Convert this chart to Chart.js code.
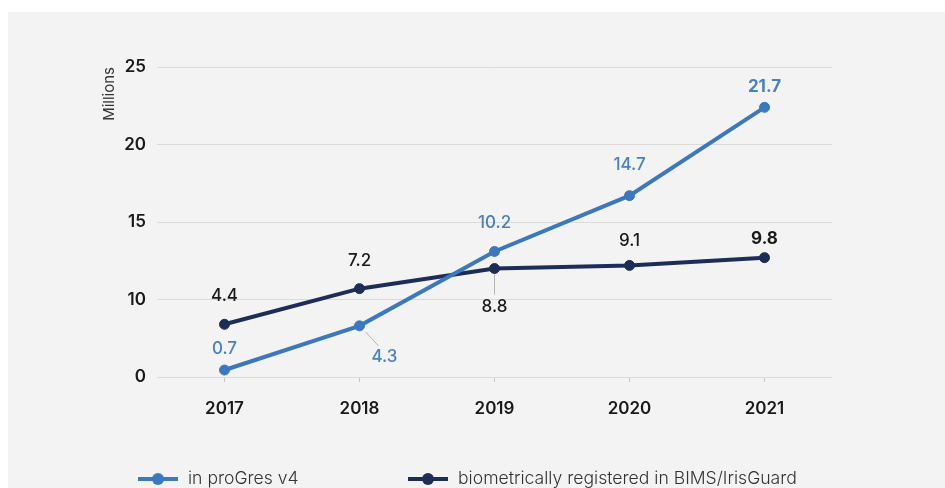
<!DOCTYPE html>
<html>
<head>
<meta charset="utf-8">
<script src="https://cdn.jsdelivr.net/npm/chart.js@4/dist/chart.umd.min.js"></script>
<style>
  html, body { margin: 0; padding: 0; background: #fff; }
  #panel { position: absolute; left: 8px; top: 12px; width: 937px; height: 476px; background: #f3f3f3; }
</style>
</head>
<body>
<div id="panel"><canvas id="chart" width="937" height="476"></canvas></div>
<script>
const years = ['2017', '2018', '2019', '2020', '2021'];
// y axis ticks as printed (the 0–10 step is drawn the same size as the others)
const yTicks = [0, 10, 15, 20, 25];
// plotted positions
const progresValues = [0.9, 6.6, 13.1, 16.7, 22.4];
const bimsValues = [6.8, 10.7, 12.0, 12.2, 12.7];
// printed labels next to the points
const progresLabels = ['0.7', '4.3', '10.2', '14.7', '21.7'];
const bimsLabels = ['4.4', '7.2', '8.8', '9.1', '9.8'];

const lightBlue = '#3b78bf';
const darkBlue = '#1e2d58';
const font = 'Inter, "Open Sans", sans-serif';

// map a value onto the stepped axis
function toAxis(v) {
  for (let i = 0; i < yTicks.length - 1; i++) {
    if (v <= yTicks[i + 1]) return i + (v - yTicks[i]) / (yTicks[i + 1] - yTicks[i]);
  }
  return yTicks.length - 1;
}

const pointLabels = {
  id: 'pointLabels',
  afterDatasetsDraw(chart, args, opts) {
    const ctx = chart.ctx;
    chart.data.datasets.forEach((ds, di) => {
      const meta = chart.getDatasetMeta(di);
      const place = opts.placement[di];
      meta.data.forEach((pt, i) => {
        const p = place[i];
        const lx = pt.x + (p.dx || 0);
        const ly = pt.y + p.dy;
        ctx.save();
        if (p.leader) {
          ctx.strokeStyle = '#b5b5b5';
          ctx.lineWidth = 1;
          ctx.beginPath();
          ctx.moveTo(pt.x + p.leader[0], pt.y + p.leader[1]);
          ctx.lineTo(pt.x + p.leader[2], pt.y + p.leader[3]);
          ctx.stroke();
        }
        ctx.fillStyle = ds.labelColor;
        ctx.font = (p.bold ? '700 ' : '500 ') + '17px ' + font;
        ctx.textAlign = 'center';
        ctx.textBaseline = 'middle';
        ctx.fillText(ds.pointText[i], lx, ly);
        ctx.restore();
      });
    });
  }
};

const bottomLegend = {
  id: 'bottomLegend',
  afterDraw(chart, args, opts) {
    const ctx = chart.ctx;
    chart.data.datasets.forEach((ds, di) => {
      const x = opts.items[di];
      const y = opts.y;
      ctx.save();
      ctx.strokeStyle = ds.borderColor;
      ctx.lineWidth = 4;
      ctx.beginPath();
      ctx.moveTo(x, y);
      ctx.lineTo(x + 40, y);
      ctx.stroke();
      ctx.fillStyle = ds.borderColor;
      ctx.beginPath();
      ctx.arc(x + 20, y, 6, 0, Math.PI * 2);
      ctx.fill();
      ctx.fillStyle = '#333';
      ctx.font = '300 17.6px ' + font;
      ctx.textBaseline = 'middle';
      ctx.fillText(ds.label, x + 50, y);
      ctx.restore();
    });
  }
};

new Chart(document.getElementById('chart'), {
  type: 'line',
  data: {
    labels: years,
    datasets: [
      {
        label: 'in proGres v4',
        data: progresValues.map(toAxis),
        pointText: progresLabels,
        labelColor: '#4a80c2',
        borderColor: lightBlue,
        backgroundColor: lightBlue,
        pointBackgroundColor: lightBlue,
        pointBorderColor: lightBlue,
        borderWidth: 4,
        pointRadius: 5,
        pointBorderWidth: 1,
        tension: 0
      },
      {
        label: 'biometrically registered in BIMS/IrisGuard',
        data: bimsValues.map(toAxis),
        pointText: bimsLabels,
        labelColor: '#1a1a1a',
        borderColor: darkBlue,
        backgroundColor: darkBlue,
        pointBackgroundColor: darkBlue,
        pointBorderColor: darkBlue,
        borderWidth: 4,
        pointRadius: 5,
        pointBorderWidth: 1,
        tension: 0
      }
    ]
  },
  options: {
    responsive: false,
    animation: false,
    layout: { padding: { left: 0, top: 55, right: 113, bottom: 0 } },
    plugins: {
      legend: { display: false },
      tooltip: { enabled: false },
      pointLabels: {
        placement: [
          [{ dy: -21 }, { dx: 25, dy: 31, leader: [6, 6, 19, 20] }, { dy: -29 }, { dy: -31 }, { dy: -20, bold: true }],
          [{ dy: -28 }, { dy: -28 }, { dy: 38, leader: [0, 6, 0, 26] }, { dy: -25 }, { dy: -19, bold: true }]
        ]
      },
      bottomLegend: { y: 467, items: [130, 400] }
    },
    scales: {
      x: {
        offset: true,
        grid: { offset: false, drawOnChartArea: false, drawTicks: true, tickLength: 5, color: '#c8c8c8' },
        border: { display: false },
        ticks: { padding: 17, color: '#1a1a1a', font: { family: font, size: 17, weight: '600' } },
        afterFit(scale) { scale.height = 111; }
      },
      y: {
        min: 0,
        max: yTicks.length - 1,
        grid: { color: '#dadada', lineWidth: 1, drawTicks: false },
        border: { display: false },
        ticks: {
          stepSize: 1,
          padding: 11,
          color: '#1a1a1a',
          font: { family: font, size: 17, weight: '600' },
          callback: (v) => yTicks[v]
        },
        title: {
          display: true,
          text: 'Millions',
          align: 'end',
          color: '#333',
          font: { family: font, size: 15, weight: '400' },
          padding: { top: 92, bottom: 0 }
        },
        afterFit(scale) { scale.width = 149; }
      }
    }
  },
  plugins: [pointLabels, bottomLegend]
});
</script>
</body>
</html>
